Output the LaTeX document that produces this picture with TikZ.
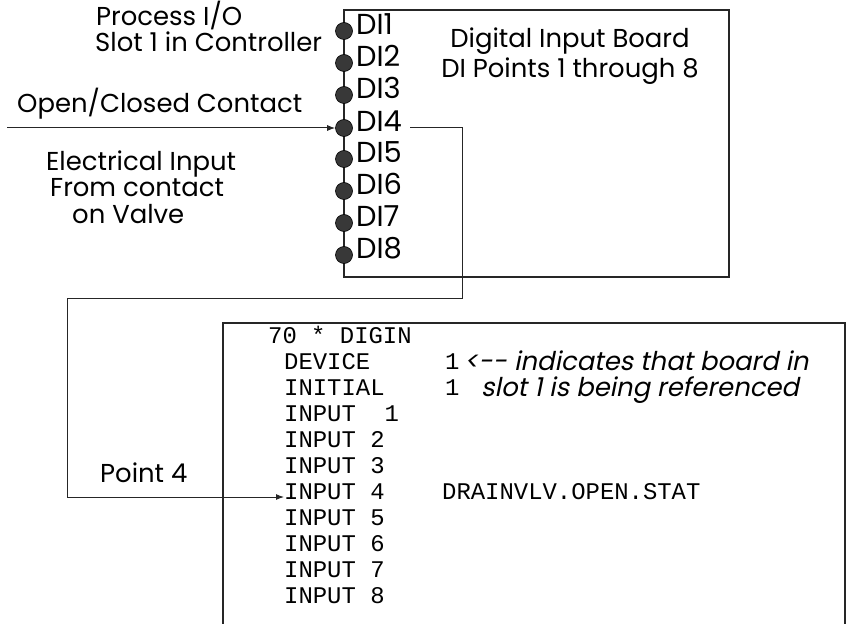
\documentclass[tikz,border=0pt]{standalone}
\usepackage{fontspec}
\setmainfont{Poppins}
\setmonofont{Liberation Mono}
\newfontfamily\annfont[FakeSlant=0.2]{Poppins}
\usetikzlibrary{arrows.meta}
\begin{document}
\begin{tikzpicture}[x=1bp,y=-1bp,
  lbl/.style={inner sep=0pt, font=\fontsize{26}{28}\selectfont, anchor=west, text height=0.7em, text depth=0pt},
  dilbl/.style={inner sep=0pt, font=\fontsize{29}{30}\selectfont, anchor=west, text height=0.7em, text depth=0pt},
  ann/.style={inner sep=0pt, font=\annfont\fontsize{26}{28}\selectfont, anchor=west, text height=0.7em, text depth=0pt},
  code/.style={inner sep=0pt, font=\ttfamily\fontsize{24}{26}\selectfont, anchor=west, text height=0.57em, text depth=0pt},
  pin/.style={circle, fill=black!78, draw=black, line width=0.6bp, inner sep=0pt, minimum size=17bp},
  wire/.style={draw=black!85, line width=1bp},
  arr/.style={wire, -{Latex[length=8bp,width=6bp]}},
  box/.style={draw=black!85, line width=1.3bp}]
\useasboundingbox (0,0) rectangle (848,624);
\fill[white] (0,0) rectangle (848,624);

% top board
\draw[box] (344,10) rectangle (729,277);
\node[lbl, anchor=center] (title1) at (570,44) {Digital Input Board};
\node[lbl, anchor=center] (title2) at (570,74) {DI Points 1 through 8};

% pins
\foreach \i/\y in {1/31,2/63,3/95,4/128,5/159,6/191,7/223,8/255}{
  \node[pin] (p\i) at (344,\y) {};
  \node[dilbl] (d\i) at (356,\y) {DI\i};
}

% left labels
\node[lbl] (proc) at (96,22) {Process I/O};
\node[lbl] (slot) at (95,48) {Slot 1 in Controller};
\node[lbl] (oc) at (17,109) {Open/Closed Contact};
\node[lbl] (el1) at (46,167) {Electrical Input};
\node[lbl] (el2) at (50,193) {From contact};
\node[lbl] (el3) at (72,220) {on Valve};

\coordinate (src) at (7,128);
\draw[arr] (src) -- (p4.west);

% code box
\draw[box] (223,624) -- (223,323) -- (845,323) -- (845,624);
\node[code] (c0) at (268,341) {70 * DIGIN};
\node[code] (c1) at (284,367) {DEVICE};
\node[code] (c2) at (284,393) {INITIAL};
\node[code] (c3) at (284,419) {INPUT~~1};
\node[code] (c4) at (284,445) {INPUT 2};
\node[code] (c5) at (284,471) {INPUT 3};
\node[code] (c6) at (284,497) {INPUT 4};
\node[code] (c7) at (284,523) {INPUT 5};
\node[code] (c8) at (284,549) {INPUT 6};
\node[code] (c9) at (284,575) {INPUT 7};
\node[code] (c10) at (284,601) {INPUT 8};
\node[code] (v1) at (445,367) {1};
\node[code] (v2) at (445,393) {1};
\node[code] (tag) at (442,497) {DRAINVLV.OPEN.STAT};
\node[ann] (a1) at (464,367) {<-{}- indicates that board in};
\node[ann] (a2) at (481,393) {slot 1 is being referenced};

\node[lbl] (pt4) at (100,479) {Point 4};

% wire DI4 -> INPUT 4
\coordinate (w0) at (410,128);
\coordinate (w1) at (462,128);
\coordinate (w2) at (462,298);
\coordinate (w3) at (67,298);
\coordinate (w4) at (67,497);
\draw[wire] (w0) -- (w1) -- (w2) -- (w3) -- (w4);
\draw[arr] (w4) -- (c6.west);
\end{tikzpicture}
\end{document}
